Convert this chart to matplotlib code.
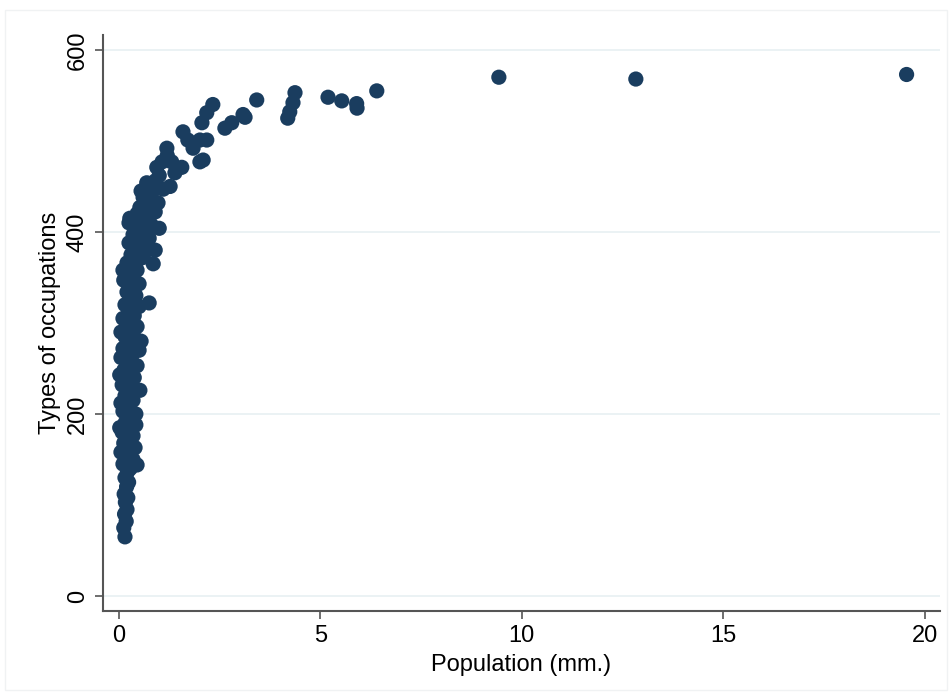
import matplotlib
matplotlib.use('Agg')
import matplotlib.pyplot as plt
from matplotlib.patches import Rectangle

plt.rcParams['font.family'] = ['Liberation Sans', 'DejaVu Sans']

# population (millions) and number of occupation types
pop = [0.15, 0.12, 0.18, 0.14, 0.20, 0.16, 0.22, 0.13, 0.19, 0.24, 0.15, 0.21, 0.28,
       0.10, 0.25, 0.45, 0.35, 0.18, 0.05, 0.30, 0.40, 0.12, 0.22, 0.35, 0.08, 0.28,
       0.42, 0.15, 0.02, 0.33, 0.20, 0.42, 0.10,
       0.25, 0.05, 0.35, 0.15, 0.52, 0.30, 0.08, 0.20, 0.38, 0.02, 0.12, 0.28, 0.45,
       0.18, 0.05, 0.33, 0.50, 0.10, 0.25, 0.55, 0.40, 0.15,
       0.05, 0.30, 0.45, 0.20, 0.10, 0.38, 0.25, 0.50, 0.15, 0.32, 0.75, 0.42, 0.20,
       0.28, 0.50, 0.12, 0.36, 0.22, 0.10, 0.45, 0.30,
       0.20, 0.85, 0.45, 0.60, 0.30, 0.70, 0.90, 0.40, 0.25, 0.55, 0.75, 0.35, 0.60,
       1.00, 0.45, 0.25, 0.80,
       0.60, 0.27, 0.69, 0.45, 0.90, 0.52, 0.75, 0.97, 0.60, 0.80, 0.84, 1.10, 0.69,
       0.90, 1.27, 0.55,
       0.94, 1.07, 1.31, 1.56, 1.39, 1.19, 1.84, 1.71, 2.01, 2.18, 1.59, 2.01, 2.09,
       1.00, 1.20,
       2.06, 2.18, 2.33, 2.63, 2.80, 3.08, 3.13, 3.42, 4.19, 4.24, 4.32, 4.37, 5.19,
       5.53, 5.90, 5.91, 6.40, 9.43, 12.83, 19.55]
occ = [65, 75, 82, 90, 95, 103, 108, 112, 120, 125, 130, 136, 140,
       145, 148, 144, 150, 155, 158, 160, 163, 168, 172, 176, 180, 183,
       188, 190, 185, 195, 198, 200, 203,
       207, 212, 215, 220, 226, 228, 232, 237, 240, 243, 248, 250, 253,
       258, 262, 265, 270, 272, 276, 280, 283, 285,
       290, 292, 296, 300, 305, 308, 313, 318, 320, 325, 322, 330, 334,
       340, 343, 347, 350, 355, 358, 358, 362,
       366, 365, 368, 372, 375, 380, 380, 383, 388, 390, 393, 397, 400,
       404, 404, 410, 408,
       412, 415, 416, 420, 422, 427, 428, 432, 438, 440, 446, 447, 454,
       456, 450, 445,
       471, 477, 477, 471, 465, 492, 492, 501, 501, 501, 510, 477, 479,
       462, 484,
       520, 531, 540, 514, 520, 529, 526, 545, 525, 532, 542, 553, 548,
       544, 541, 536, 555, 570, 568, 573]

xticks = [0, 5, 10, 15, 20]
yticks = [0, 200, 400, 600]

fig = plt.figure(figsize=(9.52, 6.98), dpi=100)
fig.patches.append(Rectangle((5 / 952, 8 / 698), 942 / 952, 680 / 698,
                             transform=fig.transFigure, fill=False,
                             edgecolor='#f0f2f3', lw=1))
ax = fig.add_axes([0.108, 0.1246, 0.879, 0.8254])

for yv in yticks:
    ax.axhline(yv, color='#e8f0f2', lw=1.2, zorder=0)

ax.scatter(pop, occ, s=120, color='#1a3d5f', edgecolors='none', zorder=3)

ax.set_xlim(-0.40, 20.37)
ax.set_ylim(-16.5, 616.5)
ax.set_xticks(xticks)
ax.set_yticks(yticks)
ax.set_yticklabels([str(v) for v in yticks], rotation=90, va='center')

for side in ['top', 'right']:
    ax.spines[side].set_visible(False)
for side in ['left', 'bottom']:
    ax.spines[side].set_color('#555555')
    ax.spines[side].set_linewidth(1.5)
ax.tick_params(axis='both', direction='out', length=6, width=1.2,
               color='#555555', labelsize=17, pad=4)

ax.set_xlabel('Population (mm.)', fontsize=17, labelpad=5)
ax.set_ylabel('Types of occupations', fontsize=17, labelpad=4)

fig.savefig('out.png', dpi=100)
